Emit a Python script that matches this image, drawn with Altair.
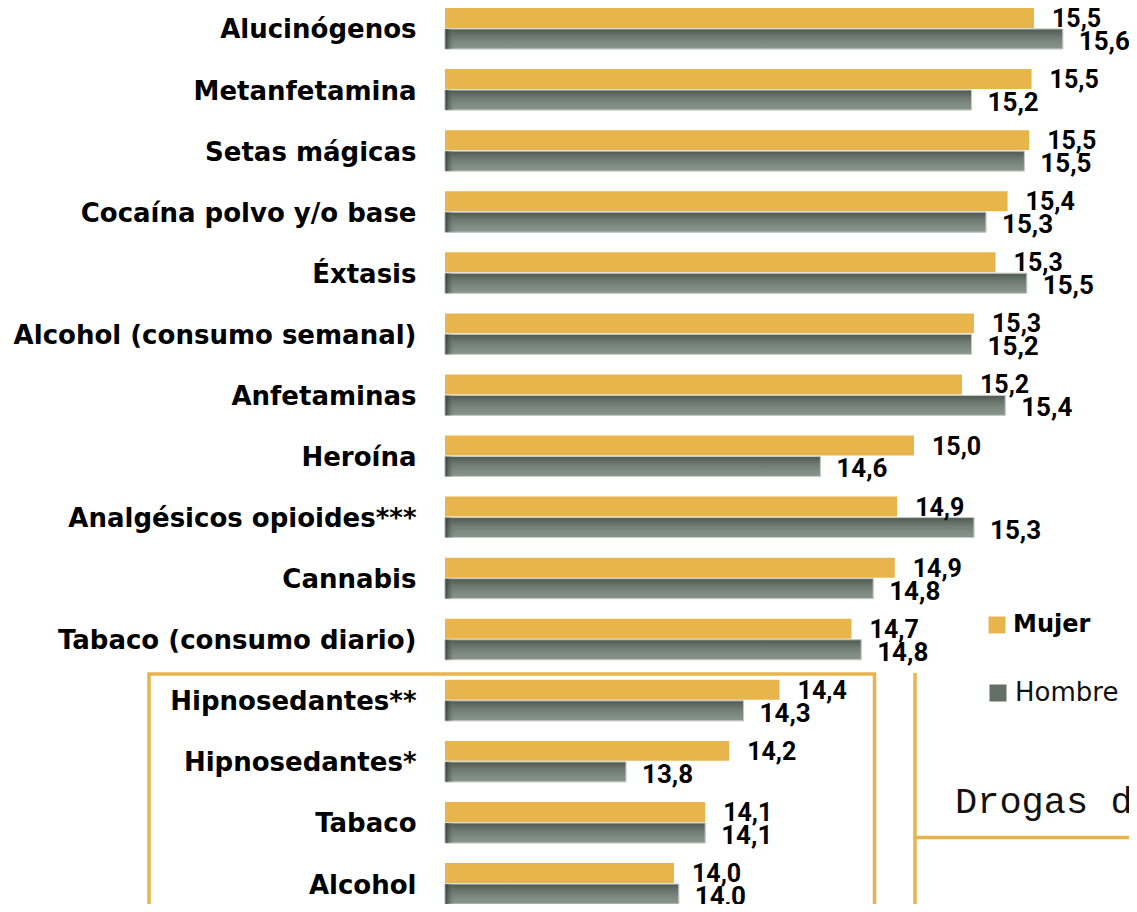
import altair as alt
import pandas as pd

drugs = ["Alucinógenos", "Metanfetamina", "Setas mágicas", "Cocaína polvo y/o base",
         "Éxtasis", "Alcohol (consumo semanal)", "Anfetaminas", "Heroína",
         "Analgésicos opioides***", "Cannabis", "Tabaco (consumo diario)",
         "Hipnosedantes**", "Hipnosedantes*", "Tabaco", "Alcohol"]
mujer = [15.50, 15.49, 15.48, 15.39, 15.34, 15.25, 15.20, 15.00, 14.93, 14.92,
         14.74, 14.44, 14.23, 14.13, 14.00]
hombre = [15.62, 15.24, 15.46, 15.30, 15.47, 15.24, 15.38, 14.61, 15.25, 14.83,
          14.78, 14.29, 13.80, 14.13, 14.02]
sexes = ["Mujer", "Hombre"]

BASE = 13.046
PLOT_W = 684
TOP = BASE + PLOT_W / 240.0

ORANGE = "#E8B54D"
GRAY = "#646f68"

rows = []
for d, m, h in zip(drugs, mujer, hombre):
    rows.append({"droga": d, "sexo": "Mujer", "valor": m})
    rows.append({"droga": d, "sexo": "Hombre", "valor": h})
df = pd.DataFrame(rows)

base = alt.Chart(df).transform_calculate(
    etiqueta="replace(format(datum.valor, '.1f'), '.', ',')",
    base0=str(BASE),
    edge0=str(BASE + 0.002),
    edge1=str(BASE + 0.04),
)

y_enc = alt.Y("droga:N", sort=drugs,
              scale=alt.Scale(domain=drugs, paddingInner=0.33, paddingOuter=0),
              axis=alt.Axis(title=None, domain=False, ticks=False, labelPadding=29,
                            labelFont="DejaVu Sans", labelFontSize=26,
                            labelFontWeight="bold", labelColor="#000000",
                            labelOffset=2, labelLimit=0, grid=False))
yoff = alt.YOffset("sexo:N", scale=alt.Scale(domain=sexes, paddingInner=0.05, paddingOuter=0))
xscale = alt.Scale(domain=[BASE, TOP], zero=False, nice=False)
x_enc = alt.X("valor:Q", scale=xscale, axis=None)
x2_enc = alt.X2("base0:Q")

mujer_bars = base.transform_filter("datum.sexo == 'Mujer'").mark_bar().encode(
    y=y_enc, yOffset=yoff, x=x_enc, x2=x2_enc,
    color=alt.Color("sexo:N", scale=alt.Scale(domain=["Mujer"], range=[ORANGE]),
                    legend=alt.Legend(orient="none", legendX=540, legendY=605, title=None,
                                      symbolType="square", symbolSize=289, symbolStrokeWidth=0,
                                      labelFont="DejaVu Sans", labelFontSize=24,
                                      labelFontWeight="bold", labelColor="#000000",
                                      labelOffset=4, padding=0))
)

hombre_bars = base.transform_filter("datum.sexo == 'Hombre'").mark_bar(
    stroke="#c9cdca", strokeWidth=1).encode(
    y=y_enc, yOffset=yoff, x=x_enc, x2=x2_enc,
    color=alt.Color("sexo:N", scale=alt.Scale(domain=["Hombre"], range=[GRAY]),
                    legend=alt.Legend(orient="none", legendX=540, legendY=672, title=None,
                                      symbolType="square", symbolSize=289, symbolStrokeWidth=0,
                                      labelFont="DejaVu Sans", labelFontSize=26,
                                      labelFontWeight="normal", labelColor="#111111",
                                      labelOffset=4, padding=0))
)

grad_v = {"gradient": "linear", "x1": 0, "y1": 0, "x2": 0, "y2": 1, "stops": [
    {"color": "#4d5851", "offset": 0},
    {"color": "#6b776f", "offset": 0.35},
    {"color": "#7e8b82", "offset": 0.7},
    {"color": "#88958c", "offset": 1},
]}
hombre_grad = base.transform_filter("datum.sexo == 'Hombre'").mark_bar(
    fill=grad_v, stroke="#c9cdca", strokeWidth=1).encode(
    y=y_enc, yOffset=yoff, x=x_enc, x2=x2_enc)

grad_h = {"gradient": "linear", "x1": 0, "y1": 0, "x2": 1, "y2": 0, "stops": [
    {"color": "rgba(50,60,55,0.85)", "offset": 0},
    {"color": "rgba(110,125,115,0)", "offset": 1},
]}
hombre_edge = base.transform_filter("datum.sexo == 'Hombre'").mark_bar(
    fill=grad_h).encode(
    y=y_enc, yOffset=yoff, x=alt.X("edge0:Q", scale=xscale, axis=None),
    x2=alt.X2("edge1:Q"))

mujer_text = base.transform_filter("datum.sexo == 'Mujer'").mark_text(
    align="left", baseline="alphabetic", dx=18, dy=9, font="Roboto",
    fontWeight="bold", fontSize=25, color="#000000").encode(
    y=y_enc, yOffset=yoff, x=x_enc, text="etiqueta:N")

hombre_text = base.transform_filter("datum.sexo == 'Hombre'").mark_text(
    align="left", baseline="alphabetic", dx=16, dy=11, font="Roboto",
    fontWeight="bold", fontSize=26, color="#000000").encode(
    y=y_enc, yOffset=yoff, x=x_enc, text="etiqueta:N")

one = pd.DataFrame({"k": [0]})
box = alt.Chart(one).mark_rect(fillOpacity=0, stroke=ORANGE, strokeWidth=3.5).encode(
    x=alt.value(-296), x2=alt.value(429.5), y=alt.value(666), y2=alt.value(1000))
vline = alt.Chart(one).mark_rule(color=ORANGE, strokeWidth=3.5).encode(
    x=alt.value(470), y=alt.value(665), y2=alt.value(1000))
hline = alt.Chart(one).mark_rule(color=ORANGE, strokeWidth=3.5).encode(
    x=alt.value(470), x2=alt.value(800), y=alt.value(829.5))
caption = alt.Chart(one).mark_text(
    align="left", baseline="alphabetic", font="Courier New, Liberation Mono, monospace",
    fontSize=37, color="#111111", text="Drogas de").encode(
    x=alt.value(510), y=alt.value(805))

chart = alt.layer(
    mujer_bars, hombre_bars, hombre_grad, hombre_edge, mujer_text, hombre_text,
    box, vline, hline, caption
).resolve_scale(color="independent").properties(
    width=PLOT_W, height=896,
    padding={"left": 437, "top": 0, "right": 0, "bottom": 0},
    autosize=alt.AutoSizeParams(type="none"),
    background="white",
).configure_view(stroke=None)

chart.save("out.html", embed_options={"renderer": "svg", "actions": False})
